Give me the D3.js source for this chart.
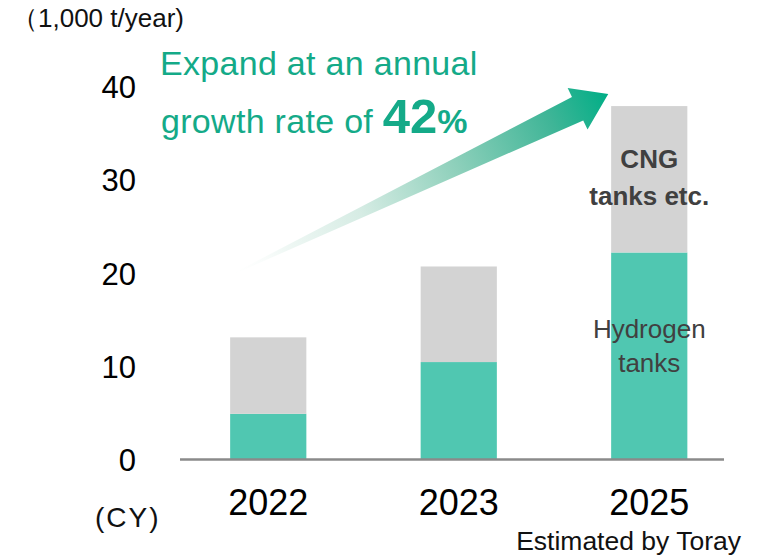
<!DOCTYPE html>
<html><head><meta charset="utf-8">
<script src="https://cdn.jsdelivr.net/npm/d3@7"></script>
<style>body{margin:0;background:#fff}svg{display:block;font-family:"Liberation Sans",Arial,sans-serif}</style>
</head><body>
<svg id="c" width="767" height="556"></svg>
<script>
const years = ["2022", "2023", "2025"];
const hydrogen = [4.9, 10.45, 22.2];
const cng = [8.2, 10.25, 15.7];
const yTicks = [0, 10, 20, 30, 40];
const unitLabel = "（1,000 t/year)";
const xUnit = "(CY)";
const note = "Estimated by Toray";

const FONT = "Liberation Sans, Arial, sans-serif";
const svg = d3.select("#c");
const x = d3.scaleBand().domain(years).range([173, 744.5]).paddingInner(0.6).paddingOuter(0.3);
const y = d3.scaleLinear().domain([0, 40]).range([459.5, 86.5]);

const data = years.map((yr, i) => ({ yr, h: hydrogen[i], c: cng[i] }));

// bars
const g = svg.append("g");
g.selectAll(".h").data(data).join("rect")
  .attr("x", d => x(d.yr)).attr("width", x.bandwidth())
  .attr("y", d => y(d.h)).attr("height", d => y(0) - y(d.h))
  .attr("fill", "#50c7b1");
g.selectAll(".c").data(data).join("rect")
  .attr("x", d => x(d.yr)).attr("width", x.bandwidth())
  .attr("y", d => y(d.h + d.c)).attr("height", d => y(d.h) - y(d.h + d.c))
  .attr("fill", "#d3d3d3");

// baseline
svg.append("line").attr("x1", 180).attr("x2", 724).attr("y1", y(0)).attr("y2", y(0))
  .attr("stroke", "#8a8a8a").attr("stroke-width", 2.5);

// y axis ticks
const yAxis = d3.axisLeft(y).tickValues(yTicks).tickSize(0).tickPadding(0);
const ya = svg.append("g").attr("transform", "translate(136,0)").call(yAxis);
ya.select(".domain").remove();
ya.selectAll("text").attr("font-size", 31).attr("fill", "#000").attr("font-family", FONT).attr("dy", "0.36em");

// x axis labels
const xAxis = d3.axisBottom(x).tickSize(0).tickPadding(0);
const xa = svg.append("g").attr("transform", "translate(0,515)").call(xAxis);
xa.select(".domain").remove();
xa.selectAll("text").attr("font-size", 36).attr("fill", "#000").attr("dy", 0).attr("font-family", FONT);

// texts
svg.append("text").attr("x", 12).attr("y", 27).attr("font-size", 26).attr("fill", "#111").text(unitLabel);
svg.append("text").attr("x", 95).attr("y", 527).attr("font-size", 28).attr("letter-spacing", 2).attr("fill", "#111").text(xUnit);
svg.append("text").attr("x", 741).attr("y", 550).attr("text-anchor", "end").attr("font-size", 26.5).attr("fill", "#111").text(note);

// arrow (anchored to scales)
const defs = svg.append("defs");
const x22 = x("2022") + x.bandwidth() / 2, x25 = x("2025") + x.bandwidth() / 2;
const tail = [x22 - 41, y(19.6)];
const tip = [x25 - 41, y(39.2)];
const grad = defs.append("linearGradient").attr("id", "ag").attr("gradientUnits", "userSpaceOnUse")
  .attr("x1", tail[0]).attr("y1", tail[1]).attr("x2", tip[0]).attr("y2", tip[1]);
grad.append("stop").attr("offset", 0).attr("stop-color", "#ffffff").attr("stop-opacity", 0);
grad.append("stop").attr("offset", 0.15).attr("stop-color", "#f0f8f5");
grad.append("stop").attr("offset", 0.35).attr("stop-color", "#d6ece4");
grad.append("stop").attr("offset", 0.6).attr("stop-color", "#8ed0bb");
grad.append("stop").attr("offset", 0.85).attr("stop-color", "#3fb597");
grad.append("stop").attr("offset", 1).attr("stop-color", "#00ae86");
const dx = tip[0] - tail[0], dy = tip[1] - tail[1], L = Math.hypot(dx, dy);
const ux = dx / L, uy = dy / L, nx = -uy, ny = ux;
const headLen = 34, headHalf = 23, shaftHalf = 13;
const bx = tip[0] - ux * headLen, by = tip[1] - uy * headLen;
const pts = [
  [tail[0] + nx * 0.3, tail[1] + ny * 0.3],
  [bx + nx * shaftHalf, by + ny * shaftHalf],
  [bx + nx * headHalf, by + ny * headHalf],
  tip,
  [bx - nx * headHalf, by - ny * headHalf],
  [bx - nx * shaftHalf, by - ny * shaftHalf],
  [tail[0] - nx * 0.3, tail[1] - ny * 0.3]
];
svg.append("path").attr("d", d3.line()(pts) + "Z").attr("fill", "url(#ag)");

const green = "#14aa88";
svg.append("text").attr("x", 160).attr("y", 75).attr("font-size", 34).attr("letter-spacing", 0.3).attr("fill", green).text("Expand at an annual");
const t2 = svg.append("text").attr("x", 161).attr("y", 133).attr("fill", green);
t2.append("tspan").attr("font-size", 34).attr("letter-spacing", 0.3).text("growth rate of ");
t2.append("tspan").attr("font-size", 49).attr("font-weight", "bold").text("42");
t2.append("tspan").attr("font-size", 34).attr("font-weight", "bold").text("%");

// segment labels
const lx = x25;
const lab = (yy, txt, bold) => svg.append("text").attr("x", lx).attr("y", yy).attr("text-anchor", "middle")
  .attr("font-size", 26).attr("font-weight", bold ? "bold" : "normal").attr("fill", "#404040").text(txt);
lab(168, "CNG", true);
lab(205, "tanks etc.", true);
lab(338, "Hydrogen", false);
lab(372, "tanks", false);
</script>
</body></html>
